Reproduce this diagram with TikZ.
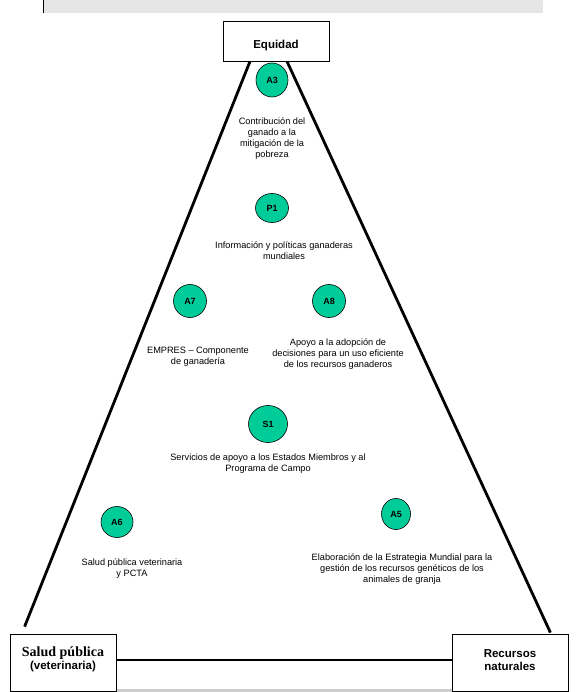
\documentclass[tikz,border=0pt]{standalone}
\usepackage{fontspec}
\setmainfont{Liberation Sans}
\newfontfamily\timesfont{Liberation Serif}
\usetikzlibrary{positioning, shapes.geometric}
\definecolor{progbg}{RGB}{0,204,153}
\definecolor{barbg}{RGB}{230,230,230}
\definecolor{stripbg}{RGB}{204,204,204}

\begin{document}
\begin{tikzpicture}[
    x=1pt, y=-1pt,
    % --- node styles ---
    corner/.style ={draw, line width=0.8pt, fill=white, align=center, inner sep=0pt,
                    font=\fontsize{11.5}{12.5}\selectfont\bfseries},
    prog/.style   ={draw, ellipse, fill=progbg, inner sep=0pt, line width=0.6pt,
                    font=\fontsize{9}{10}\selectfont\bfseries},
    desc/.style   ={align=center, inner sep=0pt, font=\fontsize{9.2}{11}\selectfont},
    % --- wire styles ---
    side/.style   ={line width=2.8pt},
]
\useasboundingbox (0,0) rectangle (577,692);

% =============== page strips ===============
\fill[barbg] (43,0) rectangle (543,13);
\draw[line width=1.5pt] (43.5,0) -- (43.5,13);
\fill[stripbg] (117,688.5) rectangle (452,692);

% =============== corners ===============
\node[corner, minimum width=106pt, minimum height=40pt,
      text height=15pt, text depth=0pt] (eq) at (276,41) {Equidad};
\node[corner, minimum width=106pt, minimum height=57pt,
      text height=16pt] (salud) at (63,662.5)
      {{\timesfont\fontsize{14}{12}\selectfont Salud pública}\\(veterinaria)};
\node[corner, minimum width=116pt, minimum height=57pt,
      text height=16pt] (recursos) at (510,662.5) {Recursos\\naturales};

% =============== triangle ===============
\draw[side] ([xshift=-26pt]eq.south) -- ([xshift=15pt, yshift=7pt]salud.north west);
\draw[side] ([xshift=11pt]eq.south) -- ([xshift=-18pt, yshift=1pt]recursos.north east);
\draw[side] ([yshift=2.5pt]salud.east) -- ([yshift=2.5pt]recursos.west);

% =============== programmes ===============
\node[prog, minimum width=32pt, minimum height=34pt] (a3) at (272,80) {A3};
\node[desc] (a3t) at (272,138.5)
      {Contribución del\\ganado a la\\mitigación de la\\pobreza};

\node[prog, minimum width=33pt, minimum height=29pt] (p1) at (272,208) {P1};
\node[desc] (p1t) at (284,251)
      {Información y políticas ganaderas\\mundiales};

\node[prog, minimum width=33pt, minimum height=33pt] (a7) at (190,301) {A7};
\node[desc] (a7t) at (198,356.5)
      {EMPRES – Componente\\de ganadería};

\node[prog, minimum width=33pt, minimum height=33pt] (a8) at (329,301) {A8};
\node[desc] (a8t) at (338,354)
      {Apoyo a la adopción de\\decisiones para un uso eficiente\\de los recursos ganaderos};

\node[prog, minimum width=39pt, minimum height=37pt] (s1) at (268,424) {S1};
\node[desc] (s1t) at (268,463.5)
      {Servicios de apoyo a los Estados Miembros y al\\Programa de Campo};

\node[prog, minimum width=32pt, minimum height=31pt] (a6) at (117,522) {A6};
\node[desc] (a6t) at (132,569)
      {Salud pública veterinaria\\y PCTA};

\node[prog, minimum width=29pt, minimum height=31pt] (a5) at (396,514) {A5};
\node[desc] (a5t) at (402,569.5)
      {Elaboración de la Estrategia Mundial para la\\gestión de los recursos genéticos de los\\animales de granja};

\end{tikzpicture}
\end{document}
